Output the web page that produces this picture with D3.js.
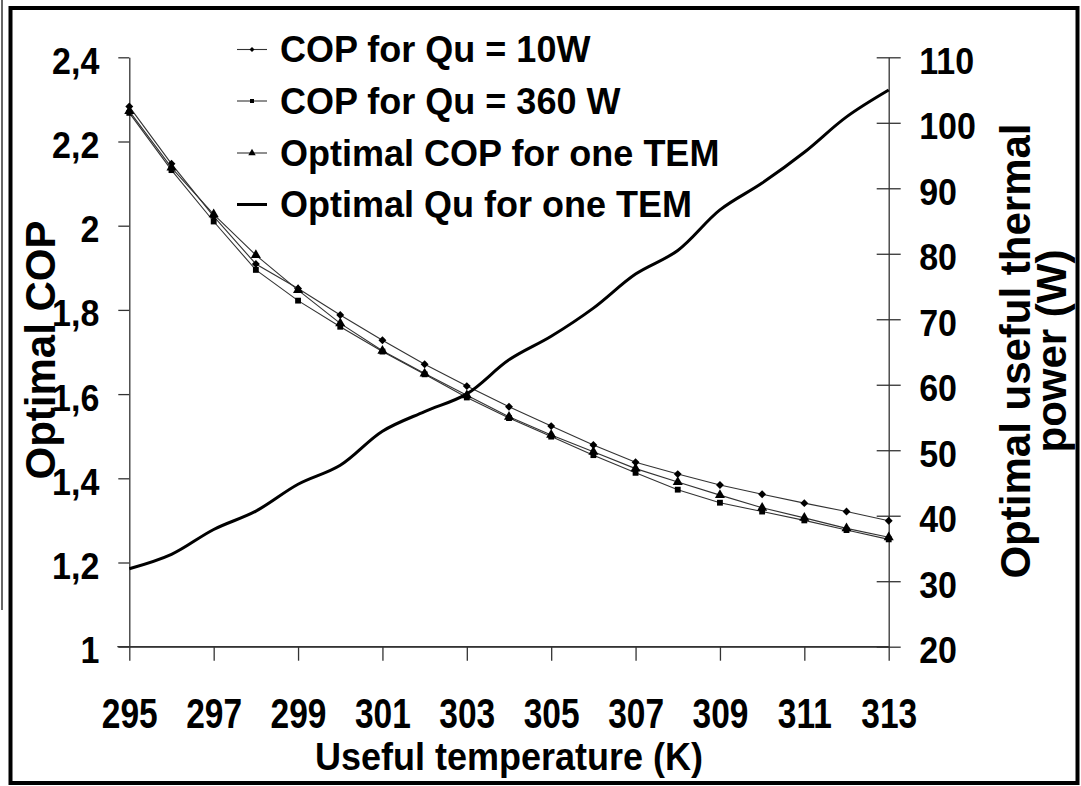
<!DOCTYPE html>
<html>
<head>
<meta charset="utf-8">
<script src="https://cdn.jsdelivr.net/npm/d3@7"></script>
<style>
  body { margin: 0; background: #fff; }
  svg text { font-family: "Liberation Sans", Arial, sans-serif; font-weight: bold; fill: #000; }
</style>
</head>
<body>
<svg id="chart" width="1081" height="786"></svg>
<script>
// data
var temps = [295, 296, 297, 298, 299, 300, 301, 302, 303, 304, 305, 306, 307, 308, 309, 310, 311, 312, 313];
var cop10 = [2.283, 2.147, 2.022, 1.909, 1.851, 1.788, 1.728, 1.671, 1.619, 1.570, 1.524, 1.479, 1.438, 1.410, 1.384, 1.362, 1.341, 1.321, 1.299];
var cop360 = [2.268, 2.132, 2.010, 1.895, 1.822, 1.760, 1.701, 1.647, 1.592, 1.543, 1.499, 1.455, 1.413, 1.373, 1.342, 1.321, 1.300, 1.277, 1.255];
var copOpt = [2.272, 2.138, 2.027, 1.930, 1.847, 1.768, 1.703, 1.649, 1.597, 1.546, 1.503, 1.463, 1.423, 1.391, 1.360, 1.330, 1.306, 1.281, 1.260];
var quOpt = [31.9, 34.1, 37.9, 40.7, 44.8, 47.7, 52.9, 55.9, 58.6, 63.8, 67.4, 71.7, 76.9, 80.5, 86.7, 90.8, 95.5, 100.9, 105.0];

var xTicks = [295, 297, 299, 301, 303, 305, 307, 309, 311, 313];
var leftTicks = [1, 1.2, 1.4, 1.6, 1.8, 2, 2.2, 2.4];
var rightTicks = [20, 30, 40, 50, 60, 70, 80, 90, 100, 110];

var legendLabels = ["COP for Qu = 10W", "COP for Qu = 360 W", "Optimal COP for one TEM", "Optimal Qu for one TEM"];

var svg = d3.select("#chart");

var x = d3.scaleLinear().domain([295, 313]).range([129.3, 888.7]);
var yL = d3.scaleLinear().domain([1, 2.4]).range([646.7, 57.3]);
var yR = d3.scaleLinear().domain([20, 110]).range([646.7, 57.3]);

// frame
svg.append("line")
  .attr("x1", 2).attr("x2", 2).attr("y1", 0).attr("y2", 610)
  .attr("stroke", "#666").attr("stroke-width", 2);
svg.append("rect")
  .attr("x", 10.5).attr("y", 8).attr("width", 1067).attr("height", 775)
  .attr("fill", "none").attr("stroke", "#000").attr("stroke-width", 4);

var fmtComma = (v) => Math.abs(v - Math.round(v)) < 1e-9 ? String(Math.round(v)) : v.toFixed(1).replace(".", ",");

// x axis
var gx = svg.append("g")
  .attr("transform", "translate(0," + yL(1) + ")")
  .call(d3.axisBottom(x).tickValues(xTicks).tickSizeInner(14).tickSizeOuter(0).tickFormat(d3.format("d")));
gx.selectAll("text")
  .attr("y", null).attr("dy", null)
  .attr("transform", "translate(0,81) scale(1,1.25)")
  .style("font-size", "33.5px");

// left axis
var gl = svg.append("g")
  .attr("transform", "translate(" + x(295) + ",0)")
  .call(d3.axisLeft(yL).tickValues(leftTicks).tickSizeInner(11).tickSizeOuter(0).tickFormat(fmtComma));
gl.selectAll("text")
  .attr("x", null).attr("dy", null)
  .attr("transform", "translate(-30,16) scale(1,1.1)")
  .style("font-size", "34px");

// right axis
var gr = svg.append("g")
  .attr("transform", "translate(" + x(313) + ",0)")
  .call(d3.axisRight(yR).tickValues(rightTicks).tickSizeInner(12).tickSizeOuter(0));
gr.selectAll(".tick line").attr("x1", -12);
gr.selectAll("text")
  .attr("x", null).attr("dy", null)
  .attr("transform", "translate(30.5,16) scale(1,1.1)")
  .style("font-size", "34px");

svg.selectAll(".domain, .tick line").attr("stroke", "#333").attr("stroke-width", 1.3);

// x axis line reaches out to the left tick
svg.append("line")
  .attr("x1", x(295) - 12).attr("x2", x(313)).attr("y1", yL(1)).attr("y2", yL(1))
  .attr("stroke", "#333").attr("stroke-width", 1.3);

// axis titles
svg.append("text")
  .attr("transform", "translate(509,770) scale(1,1.1)")
  .attr("text-anchor", "middle")
  .style("font-size", "36px")
  .text("Useful temperature (K)");

svg.append("text")
  .attr("transform", "translate(55,350) rotate(-90)")
  .attr("text-anchor", "middle")
  .style("font-size", "42px")
  .text("Optimal COP");

svg.append("text")
  .attr("transform", "translate(1030,351) rotate(-90)")
  .attr("text-anchor", "middle")
  .style("font-size", "42px")
  .text("Optimal useful thermal");
svg.append("text")
  .attr("transform", "translate(1066,351) rotate(-90)")
  .attr("text-anchor", "middle")
  .style("font-size", "42px")
  .text("power (W)");

// COP series
var copSeries = [
  { values: cop10, symbol: d3.symbolDiamond2, size: 40, lsize: 16 },
  { values: cop360, symbol: d3.symbolSquare, size: 34, lsize: 16 },
  { values: copOpt, symbol: d3.symbolTriangle, size: 44, lsize: 24 }
];

var lineL = d3.line().x((d, i) => x(temps[i])).y((d) => yL(d));

copSeries.forEach(function (s) {
  svg.append("path")
    .datum(s.values)
    .attr("d", lineL)
    .attr("fill", "none")
    .attr("stroke", "#333")
    .attr("stroke-width", 1.1);

  svg.append("g")
    .selectAll("path")
    .data(s.values)
    .enter().append("path")
    .attr("transform", (d, i) => "translate(" + x(temps[i]) + "," + yL(d) + ")")
    .attr("d", d3.symbol().type(s.symbol).size(s.size))
    .attr("fill", "#000");
});

// Qu series (right axis)
var lineR = d3.line()
  .x((d, i) => x(temps[i]))
  .y((d) => yR(d))
  .curve(d3.curveCatmullRom.alpha(0.5));

svg.append("path")
  .datum(quOpt)
  .attr("d", lineR)
  .attr("fill", "none")
  .attr("stroke", "#000")
  .attr("stroke-width", 3);

// legend
var legendY = [49.5, 101, 153, 204.5];
var legend = svg.append("g");

legendLabels.forEach(function (label, i) {
  var g = legend.append("g").attr("transform", "translate(0," + legendY[i] + ")");
  if (i < 3) {
    g.append("line")
      .attr("x1", 237).attr("x2", 267)
      .attr("stroke", "#333").attr("stroke-width", 1.1);
    g.append("path")
      .attr("transform", "translate(252,0)")
      .attr("d", d3.symbol().type(copSeries[i].symbol).size(copSeries[i].lsize))
      .attr("fill", "#000");
  } else {
    g.append("line")
      .attr("x1", 237).attr("x2", 267)
      .attr("stroke", "#000").attr("stroke-width", 3);
  }
  g.append("text")
    .attr("x", 280)
    .attr("y", 12.5)
    .style("font-size", "36px")
    .text(label);
});
</script>
</body>
</html>
